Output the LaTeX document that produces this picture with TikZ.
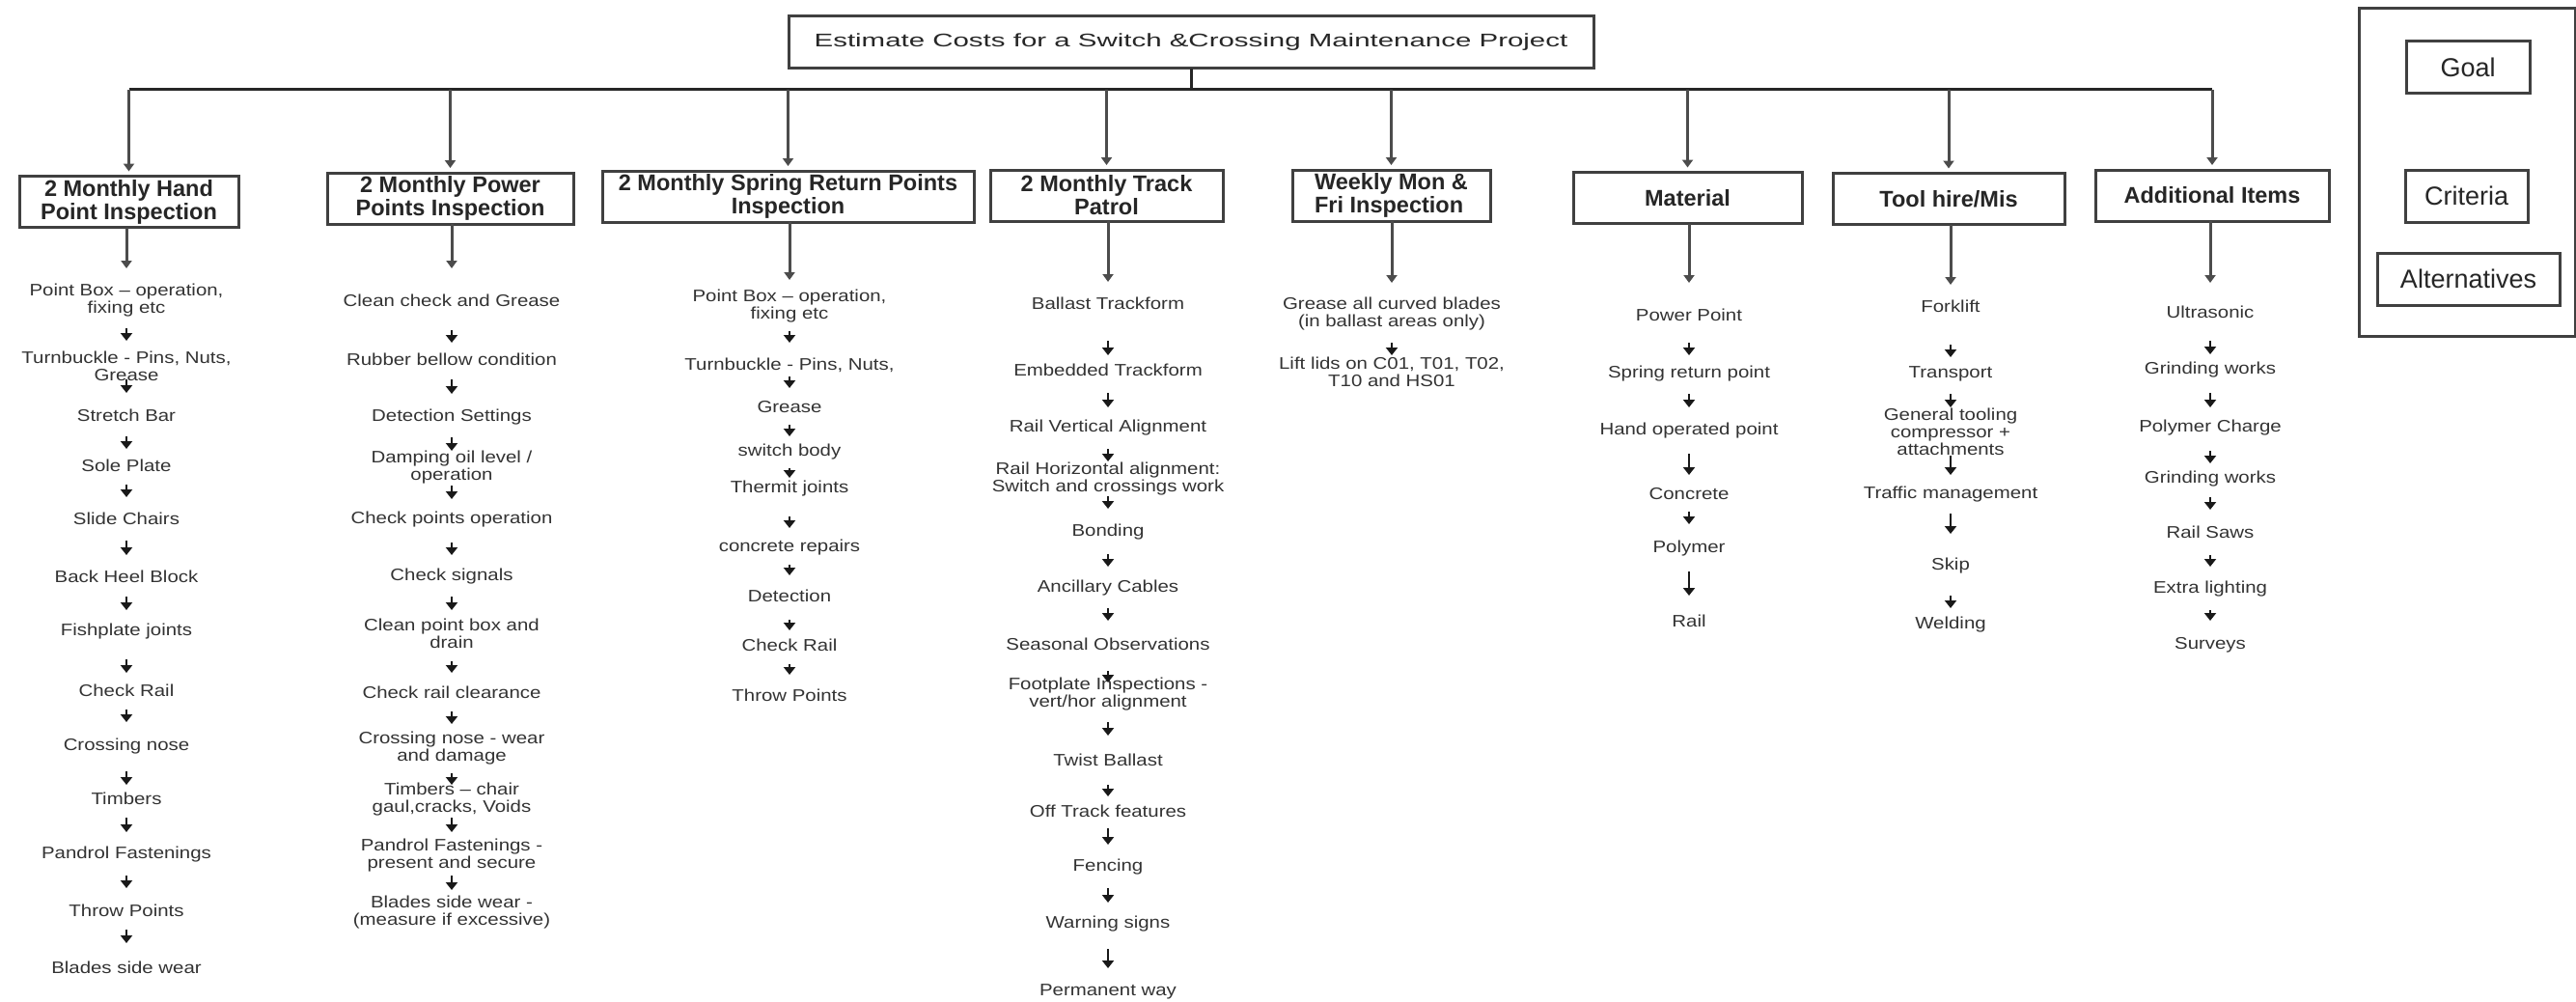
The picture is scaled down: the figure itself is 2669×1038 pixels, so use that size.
\documentclass[tikz,border=0pt]{standalone}
\usepackage{fontspec}
\setmainfont{Liberation Sans}
\newfontfamily\itemfont[FakeStretch=1.18]{Liberation Sans}
\newfontfamily\titlefont[FakeStretch=1.55]{Liberation Sans}
\usetikzlibrary{arrows.meta}

% short arrow between two entries of a list: x, top y, bottom y (in px)
\newcommand\tk[3]{\draw[tick] (#1,-#2) -- (#1,-#3);}

\begin{document}
\begin{tikzpicture}[x=1pt,y=1pt,
  every node/.style={inner sep=0pt,outer sep=0pt},
  item/.style={font=\itemfont\fontsize{17.3}{18}\selectfont,text=black!80,align=center},
  catbox/.style={draw=black!75,line width=3pt,align=center,text=black!85,
    font=\bfseries\fontsize{23.5}{24}\selectfont,minimum height=53pt},
  legbox/.style={draw=black!75,line width=3pt,text=black!85,
    font=\fontsize{27}{30}\selectfont,minimum height=54pt},
  conn/.style={line width=3pt,draw=black!70},
  drop/.style={conn,-{Triangle[length=8pt,width=11pt]}},
  tick/.style={line width=2.5pt,draw=black!90,-{Triangle[length=8pt,width=12pt]}}]

\fill[white] (0,0) rectangle (2669,-1038);
\useasboundingbox (0,0) rectangle (2669,-1038);

% ---------- goal ----------
\node[draw=black!75,line width=3pt,minimum width=834pt,minimum height=54pt,
  font=\titlefont\fontsize{19}{22}\selectfont,text=black!85] (goal) at (1234,-44)
  {Estimate Costs for a Switch \&Crossing Maintenance Project};

% ---------- criteria ----------
\node[catbox,minimum width=227pt] (k1) at (133.5,-209) {2 Monthly Hand\\Point Inspection};
\node[catbox,minimum width=255pt] (k2) at (466.5,-205.5) {2 Monthly Power\\Points Inspection};
\node[catbox,minimum width=385pt] (k3) at (816.5,-203.5) {2 Monthly Spring Return Points\\Inspection};
\node[catbox,minimum width=241pt] (k4) at (1146.5,-202.5) {2 Monthly Track\\Patrol};
\node[catbox,minimum width=205pt,align=left] (k5) at (1441.5,-202.5) {Weekly Mon \&\\Fri Inspection};
\node[catbox,minimum width=237pt] (k6) at (1748.5,-205) {Material};
\node[catbox,minimum width=240pt] (k7) at (2019,-206) {Tool hire/Mis};
\node[catbox,minimum width=242pt] (k8) at (2292,-202.5) {Additional Items};

% bus from the goal to the criteria
\coordinate (busL) at (133.5,-93);
\coordinate (busR) at (2292,-93);
\draw[conn,draw=black!85] (busL) -- (busR);
\draw[conn,draw=black!85] (goal.south) -- (goal.south |- busL);
\foreach \k in {k1,k2,k3,k4,k5,k6,k7,k8}
  \draw[drop,shorten >=5pt] (\k.north |- busL) -- (\k.north);

% ---------- alternatives: column 1 ----------
\node[item] (c1n1) at (131,-311) {Point Box – operation,\\fixing etc};
\node[item] (c1n2) at (131,-379) {Turnbuckle - Pins, Nuts,\\Grease};
\node[item] (c1n3) at (131,-430) {Stretch Bar};
\node[item] (c1n4) at (131,-482) {Sole Plate};
\node[item] (c1n5) at (131,-537) {Slide Chairs};
\node[item] (c1n6) at (131,-597) {Back Heel Block};
\node[item] (c1n7) at (131,-654) {Fishplate joints};
\node[item] (c1n8) at (131,-715) {Check Rail};
\node[item] (c1n9) at (131,-773) {Crossing nose};
\node[item] (c1n10) at (131,-827) {Timbers};
\node[item] (c1n11) at (131,-885) {Pandrol Fastenings};
\node[item] (c1n12) at (131,-943) {Throw Points};
\node[item] (c1n13) at (131,-1002) {Blades side wear};
\coordinate (t1) at (131,-278);
\draw[drop] (k1.south -| t1) -- (t1);
\tk{131}{340}{353}\tk{131}{393}{407}\tk{131}{452}{465}\tk{131}{502}{515}
\tk{131}{560}{575}\tk{131}{618}{632}\tk{131}{683}{697}\tk{131}{735}{748}
\tk{131}{799}{813}\tk{131}{847}{862}\tk{131}{907}{920}\tk{131}{963}{977}

% ---------- column 2 ----------
\node[item] (c2n1) at (468,-311) {Clean check and Grease};
\node[item] (c2n2) at (468,-372) {Rubber bellow condition};
\node[item] (c2n3) at (468,-432) {Detection Settings};
\node[item] (c2n4) at (468,-484) {Damping oil level /\\operation};
\node[item] (c2n5) at (468,-538) {Check points operation};
\node[item] (c2n6) at (468,-597) {Check signals};
\node[item] (c2n7) at (468,-656) {Clean point box and\\drain};
\node[item] (c2n8) at (468,-717) {Check rail clearance};
\node[item] (c2n9) at (468,-775) {Crossing nose - wear\\and damage};
\node[item] (c2n10) at (468,-828) {Timbers – chair\\gaul,cracks, Voids};
\node[item] (c2n11) at (468,-886) {Pandrol Fastenings -\\present and secure};
\node[item] (c2n12) at (468,-945) {Blades side wear -\\(measure if excessive)};
\coordinate (t2) at (468,-278);
\draw[drop] (k2.south -| t2) -- (t2);
\tk{468}{342}{355}\tk{468}{393}{408}\tk{468}{453}{467}\tk{468}{503}{517}
\tk{468}{562}{575}\tk{468}{618}{632}\tk{468}{685}{697}\tk{468}{737}{750}
\tk{468}{801}{813}\tk{468}{847}{862}\tk{468}{907}{922}

% ---------- column 3 ----------
\node[item] (c3n1) at (818,-317) {Point Box – operation,\\fixing etc};
\node[item] (c3n2) at (818,-378) {Turnbuckle - Pins, Nuts,};
\node[item] (c3n3) at (818,-422) {Grease};
\node[item] (c3n4) at (818,-468) {switch body};
\node[item] (c3n5) at (818,-506) {Thermit joints};
\node[item] (c3n6) at (818,-567) {concrete repairs};
\node[item] (c3n7) at (818,-617) {Detection};
\node[item] (c3n8) at (818,-668) {Check Rail};
\node[item] (c3n9) at (818,-720) {Throw Points};
\coordinate (t3) at (818,-290);
\draw[drop] (k3.south -| t3) -- (t3);
\tk{818}{343}{355}\tk{818}{390}{402}\tk{818}{440}{452}\tk{818}{485}{495}
\tk{818}{535}{547}\tk{818}{585}{596}\tk{818}{642}{653}\tk{818}{688}{699}

% ---------- column 4 ----------
\node[item] (c4n1) at (1148,-314) {Ballast Trackform};
\node[item] (c4n2) at (1148,-383) {Embedded Trackform};
\node[item] (c4n3) at (1148,-443) {Rail Vertical Alignment};
\node[item] (c4n4) at (1148,-496) {Rail Horizontal alignment:\\Switch and crossings work};
\node[item] (c4n5) at (1148,-551) {Bonding};
\node[item] (c4n6) at (1148,-609) {Ancillary Cables};
\node[item] (c4n7) at (1148,-667) {Seasonal Observations};
\node[item] (c4n8) at (1148,-719) {Footplate Inspections -\\vert/hor alignment};
\node[item] (c4n9) at (1148,-787) {Twist Ballast};
\node[item] (c4n10) at (1148,-840) {Off Track features};
\node[item] (c4n11) at (1148,-898) {Fencing};
\node[item] (c4n12) at (1148,-957) {Warning signs};
\node[item] (c4n13) at (1148,-1027) {Permanent way};
\coordinate (t4) at (1148,-292);
\draw[drop] (k4.south -| t4) -- (t4);
\tk{1148}{353}{368}\tk{1148}{407}{422}\tk{1148}{465}{478}\tk{1148}{514}{527}
\tk{1148}{574}{587}\tk{1148}{630}{643}\tk{1148}{695}{707}\tk{1148}{748}{762}
\tk{1148}{813}{825}\tk{1148}{858}{875}\tk{1148}{920}{935}\tk{1148}{983}{1003}

% ---------- column 5 ----------
\node[item] (c5n1) at (1442,-325) {Grease all curved blades\\(in ballast areas only)};
\node[item] (c5n2) at (1442,-385) {Lift lids on C01, T01, T02,\\T10 and HS01};
\coordinate (t5) at (1442,-293);
\draw[drop] (k5.south -| t5) -- (t5);
\tk{1442}{355}{368}

% ---------- column 6 ----------
\node[item] (c6n1) at (1750,-326) {Power Point};
\node[item] (c6n2) at (1750,-387) {Spring return point};
\node[item] (c6n3) at (1750,-446) {Hand operated point};
\node[item] (c6n4) at (1750,-512) {Concrete};
\node[item] (c6n5) at (1750,-568) {Polymer};
\node[item] (c6n6) at (1750,-643) {Rail};
\coordinate (t6) at (1750,-293);
\draw[drop] (k6.south -| t6) -- (t6);
\tk{1750}{355}{368}\tk{1750}{408}{422}\tk{1750}{470}{492}\tk{1750}{530}{543}
\tk{1750}{592}{617}

% ---------- column 7 ----------
\node[item] (c7n1) at (2021,-317) {Forklift};
\node[item] (c7n2) at (2021,-387) {Transport};
\node[item] (c7n3) at (2021,-447) {General tooling\\compressor +\\attachments};
\node[item] (c7n4) at (2021,-512) {Traffic management};
\node[item] (c7n5) at (2021,-586) {Skip};
\node[item] (c7n6) at (2021,-647) {Welding};
\coordinate (t7) at (2021,-295);
\draw[drop] (k7.south -| t7) -- (t7);
\tk{2021}{357}{370}\tk{2021}{408}{422}\tk{2021}{472}{492}\tk{2021}{532}{553}
\tk{2021}{617}{630}

% ---------- column 8 ----------
\node[item] (c8n1) at (2290,-323) {Ultrasonic};
\node[item] (c8n2) at (2290,-383) {Grinding works};
\node[item] (c8n3) at (2290,-443) {Polymer Charge};
\node[item] (c8n4) at (2290,-496) {Grinding works};
\node[item] (c8n5) at (2290,-551) {Rail Saws};
\node[item] (c8n6) at (2290,-610) {Extra lighting};
\node[item] (c8n7) at (2290,-668) {Surveys};
\coordinate (t8) at (2290,-293);
\draw[drop] (k8.south -| t8) -- (t8);
\tk{2290}{353}{367}\tk{2290}{407}{422}\tk{2290}{467}{480}\tk{2290}{515}{528}
\tk{2290}{575}{587}\tk{2290}{632}{643}

% ---------- key ----------
\node[draw=black!75,line width=3pt,minimum width=224pt,minimum height=339pt] (key) at (2556,-178.5) {};
\node[legbox,minimum width=128pt] (kgoal) at (2557,-70) {Goal};
\node[legbox,minimum width=127pt] (kcrit) at (2555.5,-203) {Criteria};
\node[legbox,minimum width=189pt] (kalt) at (2557.5,-289) {Alternatives};
\end{tikzpicture}
\end{document}
